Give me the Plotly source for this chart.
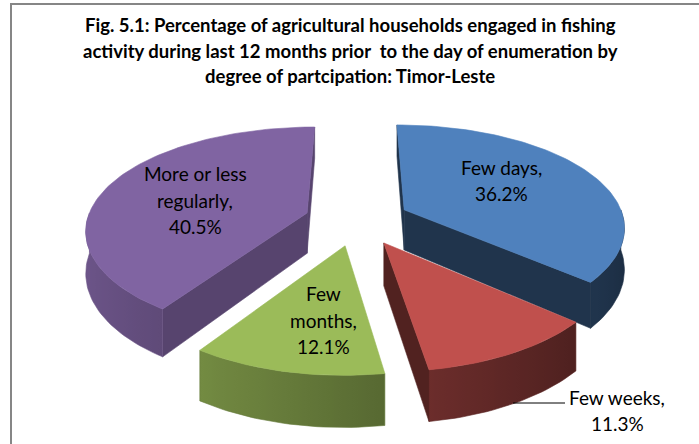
import plotly.graph_objects as go
import math

# ---- data ----
categories = ["Few days", "Few weeks", "Few months", "More or less regularly"]
values = [36.2, 11.3, 12.1, 40.5]
label_lines = [["Few days,", "36.2%"], ["Few weeks,", "11.3%"],
               ["Few", "months,", "12.1%"], ["More or less", "regularly,", "40.5%"]]
title_lines = ["Fig. 5.1: Percentage of agricultural households engaged in fishing",
               "activity during last 12 months prior  to the day of enumeration by",
               "degree of partcipation: Timor-Leste"]

# ---- style ----
top_colors = [(79, 129, 189), (192, 80, 77), (155, 187, 89), (128, 100, 162)]
cut_shade = [0.40, 0.42, 0.55, 0.68]
FONT = "Lato"

# ---- 3D projection params (pixel space) ----
CX, RX, PX = 357, 220, 0.15
CY, A, B = 220.3, 105, 16.7
H0, PZ = 41, 0.22
EXPLODE = 0.24


def proj(u, v, depth):
    x = CX + RX * u * (1 + PX * v)
    y = CY + A * v + B * v * v + depth * H0 * (1 + PZ * v)
    return x, y


def disk_pt(theta, r, off):
    t = math.radians(theta)
    return off[0] + r * math.sin(t), off[1] - r * math.cos(t)


def rgb(c, f=1.0):
    return "rgb(%d,%d,%d)" % tuple(max(0, min(255, round(v * f))) for v in c)


def wall_shade(theta):
    t = math.radians(theta)
    return max(0.36, 0.60 + 0.25 * (-math.sin(t)))


fig = go.Figure()


def poly(pts, color, gradient=None):
    xs = [p[0] for p in pts] + [pts[0][0]]
    ys = [p[1] for p in pts] + [pts[0][1]]
    kw = {}
    if gradient is not None:
        kw["fillgradient"] = gradient
    else:
        kw["fillcolor"] = color
    fig.add_trace(go.Scatter(x=xs, y=ys, mode="lines", fill="toself",
                             line=dict(color=color, width=0.6),
                             hoverinfo="skip", showlegend=False, **kw))


total = sum(values)
starts, ends = [], []
acc = 0.0
for v in values:
    starts.append(acc / total * 360)
    acc += v
    ends.append(acc / total * 360)

order = sorted(range(len(values)),
               key=lambda i: -math.cos(math.radians((starts[i] + ends[i]) / 2)))

for i in order:
    a, b = starts[i], ends[i]
    m = (a + b) / 2
    off = (EXPLODE * math.sin(math.radians(m)), -EXPLODE * math.cos(math.radians(m)))
    col = top_colors[i]
    apex_u, apex_v = off
    # cut faces
    for ang, nrm in ((a, a - 90), (b, b + 90)):
        if -math.cos(math.radians(nrm)) > -0.01:
            ru, rv = disk_pt(ang, 1, off)
            pts = [proj(apex_u, apex_v, 0), proj(ru, rv, 0),
                   proj(ru, rv, 1), proj(apex_u, apex_v, 1)]
            poly(pts, rgb(col, cut_shade[i]))
    # outer wall (visible part) with horizontal gradient
    lo, hi = max(a, 90), min(b, 270)
    if hi > lo:
        n = max(8, int((hi - lo) / 1.5))
        ts = [lo + (hi - lo) * j / n for j in range(n + 1)]
        topp = [proj(*disk_pt(t, 1, off), 0) for t in ts]
        botp = [proj(*disk_pt(t, 1, off), 1) for t in reversed(ts)]
        samples = sorted((p[0], wall_shade(t)) for p, t in zip(topp, ts))
        x0, x1 = samples[0][0], samples[-1][0]
        cs = []
        last = -1
        for x, f in samples:
            pos = round((x - x0) / (x1 - x0), 4)
            if pos > last:
                cs.append([pos, rgb(col, f)])
                last = pos
        cs[0][0] = 0.0
        cs[-1][0] = 1.0
        mid = rgb(col, wall_shade((lo + hi) / 2))
        poly(topp + botp, mid,
             gradient=dict(type="horizontal", colorscale=cs, start=x0, stop=x1))
    # top face
    nseg = max(8, int((b - a) / 1.5))
    arc = [proj(*disk_pt(a + (b - a) * j / nseg, 1, off), 0) for j in range(nseg + 1)]
    poly([proj(apex_u, apex_v, 0)] + arc, rgb(col))

annotations = []
title_y = [25, 51, 76]
for t, y in zip(title_lines, title_y):
    annotations.append(dict(x=350, y=y, text="<b>%s</b>" % t, showarrow=False,
                            xanchor="center", yanchor="middle",
                            font=dict(family=FONT, size=18.5, color="#000000")))

label_pos = [(501, [167, 193]), (617, [397, 423]), (323, [293, 320, 346]),
             (195, [173, 200, 226])]
for i, (lx, ys) in enumerate(label_pos):
    for txt, y in zip(label_lines[i], ys):
        annotations.append(dict(x=lx, y=y, text=txt, showarrow=False,
                                xanchor="center", yanchor="middle",
                                font=dict(family=FONT, size=19, color="#000000")))

shapes = [
    dict(type="rect", xref="x", yref="y", x0=11, y0=4, x1=720, y1=470,
         line=dict(color="#868686", width=2), fillcolor="rgba(0,0,0,0)", layer="below"),
    dict(type="line", xref="x", yref="y", x0=513, y0=403, x1=565, y1=403,
         line=dict(color="#000000", width=1)),
]

fig.update_layout(
    width=699, height=444, margin=dict(l=0, r=0, t=0, b=0),
    paper_bgcolor="white", plot_bgcolor="white",
    xaxis=dict(range=[0, 699], visible=False, fixedrange=True),
    yaxis=dict(range=[444, 0], visible=False, fixedrange=True),
    annotations=annotations, shapes=shapes, showlegend=False,
)

fig.write_html("out.html", config={"displayModeBar": False},
               post_script="document.body.style.margin='0';")
